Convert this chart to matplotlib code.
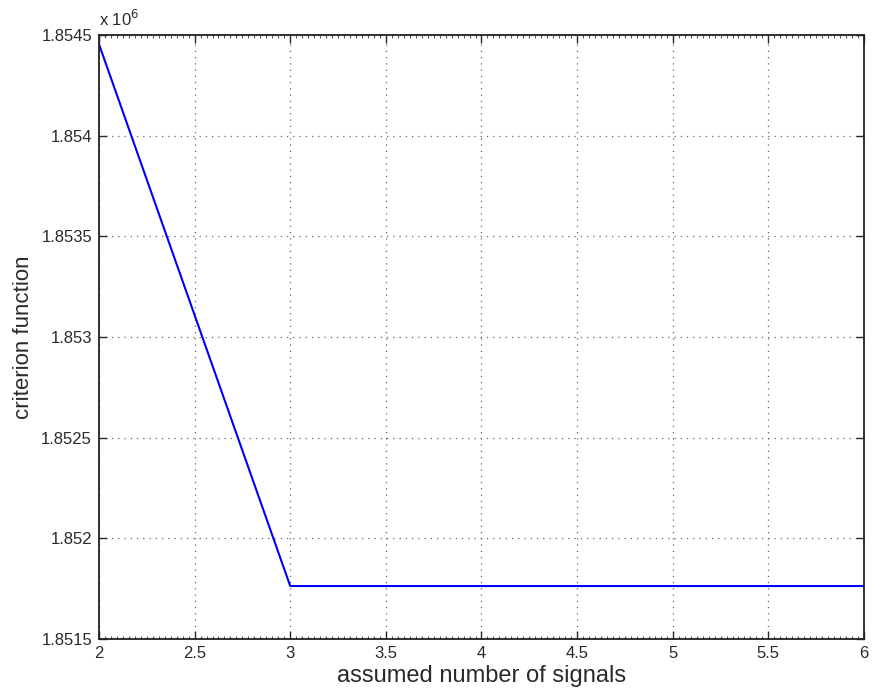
import matplotlib
matplotlib.use("Agg")
import matplotlib.pyplot as plt
from matplotlib.ticker import MultipleLocator, FixedLocator

plt.rcParams['font.family'] = ['Liberation Sans', 'DejaVu Sans']

# data
signals = [2, 3, 4, 5, 6]
criterion = [1.854455e6, 1.851763e6, 1.851763e6, 1.851763e6, 1.851763e6]

x_ticks = [2, 2.5, 3, 3.5, 4, 4.5, 5, 5.5, 6]
y_ticks = [1.8515, 1.852, 1.8525, 1.853, 1.8535, 1.854, 1.8545]
y_labels = ['1.8515', '1.852', '1.8525', '1.853', '1.8535', '1.854', '1.8545']

fig = plt.figure(figsize=(8.82, 6.91), dpi=100)
ax = fig.add_axes([0.1122, 0.0753, 0.8674, 0.874])

ax.plot(signals, [v / 1e6 for v in criterion], color='#0000ff', linewidth=1.5)

ax.set_xlim(2, 6)
ax.set_ylim(1.8515, 1.8545)
ax.xaxis.set_major_locator(FixedLocator(x_ticks))
ax.yaxis.set_major_locator(FixedLocator(y_ticks))
ax.set_xticklabels([('%g' % t) for t in x_ticks])
ax.set_yticklabels(y_labels)
ax.xaxis.set_minor_locator(MultipleLocator(0.03125))

ax.grid(True, which='major', linestyle=(0, (1, 4)), color='#666666', linewidth=0.9)
ax.tick_params(which='major', direction='in', length=6, width=1, top=True, right=True,
               labelsize=12, colors='#2a2a2a', pad=5)
ax.tick_params(which='minor', axis='x', direction='in', length=2, width=0.8, top=True, bottom=True,
               colors='#555555')
for s in ax.spines.values():
    s.set_linewidth(1.3)
    s.set_color('#222222')

ax.set_xlabel('assumed number of signals', fontsize=17, color='#2a2a2a', labelpad=3)
ax.set_ylabel('criterion function', fontsize=16, color='#2a2a2a', labelpad=5)

ax.text(0.0, 1.01, r'x 10$^{6}$', transform=ax.transAxes, fontsize=12,
        color='#2a2a2a', ha='left', va='bottom')

fig.savefig('out.png', dpi=100, facecolor='white')
